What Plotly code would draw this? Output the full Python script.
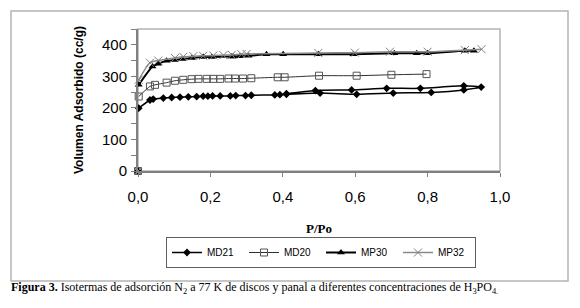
import plotly.graph_objects as go

# ---- data ----
md21_x = [0.0, 0.002, 0.033, 0.042, 0.07, 0.093, 0.116, 0.139, 0.162, 0.18, 0.193, 0.206, 0.227, 0.255,
          0.27, 0.297, 0.313, 0.378, 0.392, 0.41, 0.503, 0.604, 0.705, 0.81, 0.90, 0.948,
          0.90, 0.78, 0.687, 0.59, 0.49, 0.41]
md21_y = [0, 199, 225, 228, 231, 233, 234, 235, 236, 237, 237, 238, 238, 238,
          239, 239, 240, 241, 242, 243, 247, 243, 247, 249, 257, 266,
          270, 262, 262, 257, 255, 245]

md20_x = [0.0, 0.002, 0.033, 0.047, 0.079, 0.102, 0.125, 0.148, 0.167, 0.19, 0.208, 0.227, 0.25, 0.268,
          0.29, 0.313, 0.386, 0.405, 0.5, 0.604, 0.70, 0.797]
md20_y = [0, 236, 268, 273, 280, 286, 289, 291, 292, 292, 292, 292, 293, 293,
          293, 294, 297, 297, 302, 302, 305, 307]

mp30_x = [0.0, 0.002, 0.04, 0.056, 0.079, 0.102, 0.123, 0.149, 0.18, 0.204, 0.259, 0.263, 0.282,
          0.305, 0.355, 0.401, 0.498, 0.595, 0.708, 0.77, 0.80, 0.903, 0.928]
mp30_y = [0, 273, 331, 340, 349, 352, 355, 358, 361, 361, 363, 363, 364,
          365, 370, 370, 370, 370, 373, 373, 373, 381, 381]

mp32_x = [0.0, 0.002, 0.033, 0.056, 0.102, 0.125, 0.153, 0.18, 0.208, 0.236, 0.259, 0.286, 0.30,
          0.498, 0.599, 0.696, 0.80, 0.903, 0.949]
mp32_y = [0, 289, 343, 350, 358, 362, 364, 365, 366, 367, 368, 370, 371,
          374, 375, 378, 378, 383, 386]

series_names = ["MD21", "MD20", "MP30", "MP32"]
x_ticks = [0.0, 0.2, 0.4, 0.6, 0.8, 1.0]
y_ticks = [0, 100, 200, 300, 400]

styles = {
    "MD21": dict(line=dict(color="#000000", width=1.5),
                 marker=dict(symbol="diamond", size=6, color="#000000")),
    "MD20": dict(line=dict(color="#303030", width=1),
                 marker=dict(symbol="square-open", size=7, color="#555555", line=dict(width=1))),
    "MP30": dict(line=dict(color="#000000", width=2),
                 marker=dict(symbol="triangle-up", size=7, color="#000000")),
    "MP32": dict(line=dict(color="#8a8a8a", width=1.5),
                 marker=dict(symbol="x-thin-open", size=8, color="#808080", line=dict(width=1, color="#808080"))),
}
data = {"MD21": (md21_x, md21_y), "MD20": (md20_x, md20_y),
        "MP30": (mp30_x, mp30_y), "MP32": (mp32_x, mp32_y)}

fig = go.Figure()
for name in series_names:
    xs, ys = data[name]
    st = styles[name]
    # curve starts after the origin point
    fig.add_trace(go.Scatter(x=xs[1:], y=ys[1:], mode="lines+markers", name=name,
                             line=dict(shape="spline", smoothing=0.6, **st["line"]),
                             marker=st["marker"], cliponaxis=False))
    # origin point (marker only)
    fig.add_trace(go.Scatter(x=xs[:1], y=ys[:1], mode="markers", showlegend=False,
                             marker=st["marker"], cliponaxis=False))

# the page adds an 8px body margin, so the figure is laid out in page pixels minus 8
OFF = 8
W, H = 580 - OFF, 308 - OFF
L, T = 138 - OFF, 29 - OFF
PR, PB = 500 - OFF, 171 - OFF
R, B = W - PR, H - PB
pw, ph = PR - L, PB - T

def px_x(p):
    return (p - OFF - L) / pw

def px_y(p):
    return (PB - (p - OFF)) / ph

fig.update_layout(
    width=W, height=H,
    margin=dict(l=L, r=R, t=T, b=B, autoexpand=False),
    paper_bgcolor="white", plot_bgcolor="white",
    separators=",.",
    font=dict(family="Liberation Sans, Arial", color="#000000"),
    showlegend=True,
    legend=dict(orientation="h", x=px_x(166), y=px_y(237), xanchor="left", yanchor="top",
                bordercolor="#606060", borderwidth=1, bgcolor="white",
                font=dict(family="Liberation Sans, Arial", size=10, color="#000000"),
                entrywidth=32, entrywidthmode="pixels", itemwidth=30),
    xaxis=dict(range=[0, 1.0], tickvals=x_ticks, tickformat=".1f", showgrid=False, zeroline=False,
               showline=True, linecolor="#808080", linewidth=2,
               ticks="outside", ticklen=4, tickcolor="#808080", tickwidth=1,
               ticklabelstandoff=7,
               tickfont=dict(size=15, color="#000000"),
               title=dict(text="P/Po", font=dict(family="Liberation Serif, Times New Roman", size=13,
                                                   color="#000000", weight="bold"), standoff=20)),
    yaxis=dict(range=[0, 450], tickvals=y_ticks, showgrid=False, zeroline=False,
               showline=True, linecolor="#808080", linewidth=2,
               ticks="outside", ticklen=5, tickcolor="#808080", tickwidth=1,
               minor=dict(tickvals=[50, 150, 250, 350, 450], ticks="outside", ticklen=5, tickcolor="#808080"),
               ticklabelstandoff=1,
               tickfont=dict(size=15, color="#000000"),
               title=dict(text="Volumen Adsorbido (cc/g)",
                          font=dict(family="Liberation Sans, Arial", size=12, color="#000000", weight="bold"),
                          standoff=16)),
    shapes=[
        dict(type="rect", xref="paper", yref="paper", x0=px_x(11), x1=px_x(568), y0=px_y(281), y1=px_y(11),
             line=dict(color="#b4b4b4", width=1.5), layer="below"),
        dict(type="rect", xref="paper", yref="paper", x0=0, x1=1, y0=0, y1=1,
             line=dict(color="#b4b4b4", width=1.5), layer="below"),
    ],
    annotations=[
        dict(text="<b>Figura 3.</b> Isotermas de adsorción N<sub>2</sub> a 77 K de discos y panal a "
                  "diferentes concentraciones de H<sub>3</sub>PO<sub>4.</sub>",
             xref="paper", yref="paper", x=px_x(9), y=px_y(288), xanchor="left", yanchor="middle",
             showarrow=False, font=dict(family="Liberation Serif, Times New Roman", size=12, color="#000000")),
    ],
)

fig.write_html("out.html")
